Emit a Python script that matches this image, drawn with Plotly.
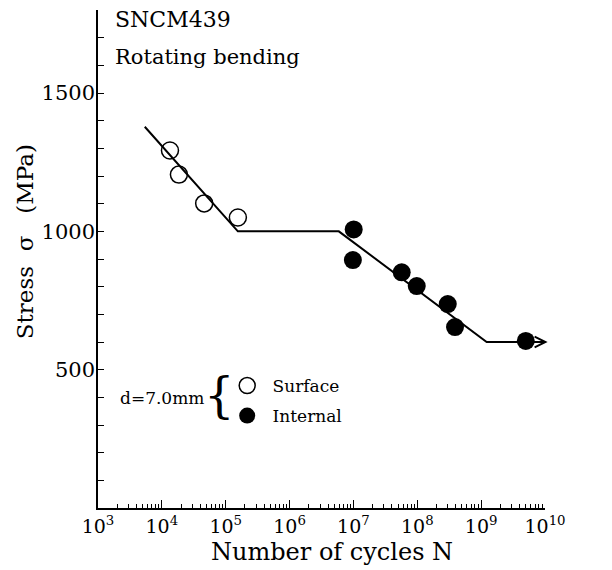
import math
import plotly.graph_objects as go

# Data
surface_N = [1.34e4, 1.85e4, 4.6e4, 1.55e5]
surface_S = [1292, 1205, 1101, 1050]

internal_N = [1.01e7, 9.8e6, 5.7e7, 9.8e7, 3.0e8, 3.9e8, 5.0e9]
internal_S = [1007, 896, 852, 802, 737, 654, 604]

sn_line_N = [5.4e3, 1.55e5, 5.9e6, 1.22e9, 1.0e10]
sn_line_S = [1378, 1000, 1000, 600, 600]
arrow_tail_N = 5.0e9
arrow_tip_N = 1.1e10

x_decades = [3, 4, 5, 6, 7, 8, 9, 10]
y_major = [500, 1000, 1500]

FONT = "DejaVu Serif"
NB = "\u00a0"

fig = go.Figure()

fig.add_trace(go.Scatter(
    x=sn_line_N, y=sn_line_S, mode="lines",
    line=dict(color="black", width=2), showlegend=False, hoverinfo="skip"))

fig.add_trace(go.Scatter(
    x=surface_N, y=surface_S, mode="markers", name=NB + "Surface", legend="legend",
    marker=dict(symbol="circle-open", size=17, color="black", line=dict(width=1.5))))

fig.add_trace(go.Scatter(
    x=internal_N, y=internal_S, mode="markers", name=NB + "Internal", legend="legend2",
    marker=dict(symbol="circle", size=18, color="black")))

# arrow continuing the fatigue-limit line
fig.add_annotation(
    x=math.log10(arrow_tip_N), y=sn_line_S[-1], ax=math.log10(arrow_tail_N), ay=sn_line_S[-1],
    xref="x", yref="y", axref="x", ayref="y", text="", showarrow=True,
    arrowhead=5, arrowsize=1.4, arrowwidth=1.5, arrowcolor="black")

minor_x = [k * 10 ** d for d in x_decades[:-1] for k in range(2, 10)]

fig.update_xaxes(
    type="log", range=[3, 10],
    tickmode="array",
    tickvals=[10 ** d for d in x_decades],
    ticktext=[f"10<sup>{d}</sup>" for d in x_decades],
    ticks="inside", ticklen=8, tickwidth=1.3, tickcolor="black",
    minor=dict(tickmode="array", tickvals=minor_x, ticks="inside", ticklen=4,
               tickwidth=1.2, tickcolor="black", showgrid=False),
    showline=True, linecolor="black", linewidth=1.5,
    showgrid=False, zeroline=False,
    tickfont=dict(family=FONT, size=19, color="black"),
    automargin=False,
)

fig.update_yaxes(
    range=[0, 1800],
    tickmode="array", tickvals=y_major, ticktext=[str(v) for v in y_major],
    ticks="inside", ticklen=6, tickwidth=1.3, tickcolor="black",
    minor=dict(dtick=100, tick0=0, ticks="inside", ticklen=6, tickwidth=1.3,
               tickcolor="black", showgrid=False),
    showline=True, linecolor="black", linewidth=1.5,
    showgrid=False, zeroline=False,
    tickfont=dict(family=FONT, size=21, color="black"),
    ticklabelstandoff=-3,
    automargin=False,
)

# axis titles (placed as annotations for exact positioning)
fig.add_annotation(x=0.523, y=-0.088, xref="paper", yref="paper", text="Number of cycles N",
                   showarrow=False, xanchor="center", yanchor="middle",
                   font=dict(family=FONT, size=24, color="black"))
fig.add_annotation(x=-0.163, y=0.534, xref="paper", yref="paper",
                   text="Stress" + NB * 2 + "σ" + NB * 3 + "(MPa)", textangle=-90,
                   showarrow=False, xanchor="center", yanchor="middle",
                   font=dict(family=FONT, size=23, color="black"))

fig.add_annotation(x=0.034, y=0.98, xref="paper", yref="paper", text="SNCM439",
                   showarrow=False, xanchor="left", yanchor="middle",
                   font=dict(family=FONT, size=22, color="black"))
fig.add_annotation(x=0.034, y=0.906, xref="paper", yref="paper", text="Rotating bending",
                   showarrow=False, xanchor="left", yanchor="middle",
                   font=dict(family=FONT, size=21, color="black"))
fig.add_annotation(x=0.045, y=0.221, xref="paper", yref="paper", text="d=7.0mm",
                   showarrow=False, xanchor="left", yanchor="middle",
                   font=dict(family=FONT, size=17, color="black"))
fig.add_annotation(x=0.272, y=0.226, xref="paper", yref="paper", text="{",
                   showarrow=False, xanchor="center", yanchor="middle",
                   font=dict(family=FONT, size=48, color="black"))

legend_style = dict(xanchor="left", yanchor="middle",
                    bgcolor="rgba(0,0,0,0)", borderwidth=0,
                    font=dict(family=FONT, size=17, color="black"))

# page body has an 8px default margin, so the figure is drawn 8px smaller
fig.update_layout(
    width=604, height=562,
    margin=dict(l=90, r=67, t=2, b=62),
    plot_bgcolor="white", paper_bgcolor="white",
    font=dict(family=FONT, color="black"),
    legend=dict(x=0.289, y=(508 - 386) / 498, **legend_style),
    legend2=dict(x=0.289, y=(508 - 416) / 498, **legend_style),
)

fig.write_html("out.html")
